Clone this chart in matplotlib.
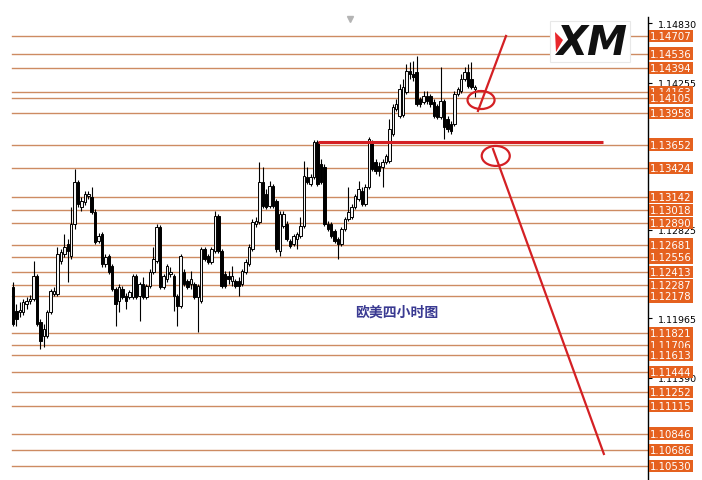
import numpy as np
import matplotlib.pyplot as plt
from matplotlib.patches import Ellipse, Polygon, Rectangle

plt.rcParams['font.family'] = ['DejaVu Sans']

# =========================
# EURUSD 4H candles
# =========================
opens = [1.12270, 1.12037, 1.12027, 1.12027, 1.12104, 1.12134, 1.12153, 1.12376, 1.11930, 1.11794,
         1.11794, 1.12027, 1.12202, 1.12202, 1.12522, 1.12590, 1.12687, 1.12571, 1.12881, 1.13289,
         1.13046, 1.13095, 1.13153, 1.13143, 1.12998, 1.12716, 1.12784, 1.12493, 1.12571, 1.12473,
         1.12250, 1.12134, 1.12250, 1.12182, 1.12172, 1.12172, 1.12376, 1.12182, 1.12299, 1.12172,
         1.12279, 1.12415, 1.12522, 1.12852, 1.12270, 1.12347, 1.12396, 1.12376, 1.12182, 1.12085,
         1.12415, 1.12328, 1.12299, 1.12299, 1.12172, 1.12134, 1.12639, 1.12571, 1.12512, 1.12619,
         1.12959, 1.12619, 1.12396, 1.12376, 1.12328, 1.12328, 1.12328, 1.12299, 1.12415, 1.12493,
         1.12639, 1.12881, 1.12901, 1.13289, 1.13173, 1.13056, 1.13250, 1.13105, 1.12619, 1.12862,
         1.12881, 1.12716, 1.12687, 1.12736, 1.12765, 1.12862, 1.13338, 1.13270, 1.13338, 1.13678,
         1.13464, 1.13435, 1.12881, 1.12881, 1.12813, 1.12736, 1.12687, 1.12833, 1.12930, 1.12949,
         1.13046, 1.13124, 1.13202, 1.13075, 1.13241, 1.13678, 1.13483, 1.13444, 1.13435, 1.13483,
         1.13493, 1.13755, 1.13998, 1.13930, 1.13940, 1.14163, 1.14367, 1.14338, 1.14357, 1.14095,
         1.14066, 1.14124, 1.14124, 1.14066, 1.14027, 1.13920, 1.14076, 1.13901, 1.13852, 1.13852,
         1.14144, 1.14173, 1.14289, 1.14357, 1.14289, 1.14192]
closes = [1.11910, 1.11959, 1.12046, 1.12124, 1.12134, 1.12153, 1.12376, 1.11910, 1.11745, 1.11862,
          1.12027, 1.12231, 1.12231, 1.12590, 1.12609, 1.12658, 1.12619, 1.12881, 1.13289, 1.13075,
          1.13105, 1.13173, 1.13173, 1.12998, 1.12706, 1.12765, 1.12493, 1.12561, 1.12415, 1.12250,
          1.12104, 1.12270, 1.12172, 1.12134, 1.12221, 1.12376, 1.12172, 1.12299, 1.12172, 1.12279,
          1.12415, 1.12541, 1.12852, 1.12270, 1.12376, 1.12473, 1.12415, 1.12182, 1.12085, 1.12571,
          1.12299, 1.12270, 1.12347, 1.12172, 1.12279, 1.12639, 1.12541, 1.12512, 1.12639, 1.12959,
          1.12619, 1.12279, 1.12279, 1.12347, 1.12376, 1.12279, 1.12279, 1.12425, 1.12512, 1.12658,
          1.12901, 1.12910, 1.13289, 1.13056, 1.13046, 1.13250, 1.13056, 1.12639, 1.12978, 1.12978,
          1.12736, 1.12668, 1.12765, 1.12784, 1.12862, 1.13347, 1.13289, 1.13338, 1.13678, 1.13270,
          1.13289, 1.12881, 1.12833, 1.12765, 1.12716, 1.12687, 1.12833, 1.12930, 1.12998, 1.13046,
          1.13153, 1.13221, 1.13075, 1.13241, 1.13707, 1.13415, 1.13396, 1.13396, 1.13483, 1.13542,
          1.13804, 1.14017, 1.14046, 1.14192, 1.14212, 1.14367, 1.14338, 1.14309, 1.14046, 1.14046,
          1.14124, 1.14076, 1.14046, 1.13930, 1.13920, 1.14076, 1.13823, 1.13804, 1.13784, 1.14144,
          1.14192, 1.14289, 1.14357, 1.14221, 1.14212, 1.14212]
highs = [1.12318, 1.12104, 1.12124, 1.12153, 1.12172, 1.12192, 1.12522, 1.12396, 1.11959, 1.11910,
         1.12046, 1.12250, 1.12270, 1.12658, 1.12639, 1.12784, 1.12736, 1.13046, 1.13415, 1.13309,
         1.13143, 1.13202, 1.13202, 1.13241, 1.13027, 1.12794, 1.12804, 1.12590, 1.12590, 1.12493,
         1.12270, 1.12299, 1.12279, 1.12211, 1.12240, 1.12396, 1.12396, 1.12318, 1.12367, 1.12299,
         1.12444, 1.12658, 1.12881, 1.12871, 1.12396, 1.12493, 1.12464, 1.12396, 1.12202, 1.12590,
         1.12444, 1.12347, 1.12425, 1.12318, 1.12299, 1.12658, 1.12658, 1.12590, 1.12658, 1.13008,
         1.12978, 1.12639, 1.12425, 1.12425, 1.12473, 1.12347, 1.12367, 1.12444, 1.12541, 1.12687,
         1.12930, 1.12949, 1.13483, 1.13435, 1.13221, 1.13299, 1.13270, 1.13124, 1.13008, 1.13008,
         1.12910, 1.12736, 1.12784, 1.12804, 1.12949, 1.13493, 1.13435, 1.13367, 1.13697, 1.13697,
         1.13512, 1.13464, 1.12910, 1.12901, 1.12833, 1.12755, 1.12852, 1.12949, 1.13241, 1.13075,
         1.13173, 1.13299, 1.13241, 1.13270, 1.13726, 1.13697, 1.13512, 1.13483, 1.13512, 1.13561,
         1.13901, 1.14046, 1.14095, 1.14241, 1.14289, 1.14435, 1.14454, 1.14464, 1.14513, 1.14114,
         1.14173, 1.14173, 1.14144, 1.14095, 1.14046, 1.14406, 1.14095, 1.13930, 1.13881, 1.14173,
         1.14212, 1.14338, 1.14406, 1.14435, 1.14454, 1.14231]
lows = [1.11891, 1.11891, 1.11978, 1.11998, 1.12056, 1.12104, 1.12134, 1.11891, 1.11668, 1.11687,
        1.11774, 1.12007, 1.12182, 1.12182, 1.12493, 1.12561, 1.12318, 1.12541, 1.12833, 1.13046,
        1.13008, 1.13066, 1.13124, 1.12978, 1.12687, 1.12697, 1.12464, 1.12464, 1.12396, 1.12231,
        1.11891, 1.12027, 1.12153, 1.12056, 1.12153, 1.12153, 1.12153, 1.11939, 1.12153, 1.12153,
        1.12260, 1.12396, 1.12503, 1.12250, 1.12250, 1.12318, 1.12367, 1.12037, 1.11891, 1.12066,
        1.12279, 1.12250, 1.12250, 1.12153, 1.11833, 1.12114, 1.12522, 1.12493, 1.12493, 1.12600,
        1.12600, 1.12260, 1.12260, 1.12299, 1.12279, 1.12260, 1.12182, 1.12279, 1.12396, 1.12473,
        1.12619, 1.12852, 1.12881, 1.13037, 1.13027, 1.13037, 1.13037, 1.12609, 1.12571, 1.12842,
        1.12716, 1.12648, 1.12668, 1.12639, 1.12745, 1.12842, 1.13270, 1.13250, 1.13318, 1.13250,
        1.13270, 1.12862, 1.12813, 1.12745, 1.12697, 1.12541, 1.12668, 1.12813, 1.12910, 1.12930,
        1.13027, 1.13105, 1.13056, 1.13056, 1.13221, 1.13396, 1.13367, 1.13347, 1.13241, 1.13464,
        1.13474, 1.13736, 1.13979, 1.13911, 1.13920, 1.14144, 1.14289, 1.14270, 1.14027, 1.14017,
        1.14046, 1.14046, 1.14017, 1.13911, 1.13901, 1.13901, 1.13707, 1.13775, 1.13755, 1.13833,
        1.14124, 1.14153, 1.14270, 1.14202, 1.14192, 1.14114]

# horizontal levels with orange price tags
levels = [1.14707, 1.14536, 1.14394, 1.14163, 1.14105, 1.13958, 1.13652, 1.13424, 1.13142,
          1.13018, 1.12890, 1.12681, 1.12556, 1.12413, 1.12287, 1.12178, 1.11821, 1.11706,
          1.11613, 1.11444, 1.11252, 1.11115, 1.10846, 1.10686, 1.10530]
level_labels = ["%.5f" % v for v in levels]

# regular price scale: tick marks everywhere, labels only where not covered by a tag
scale_ticks = [1.14830, 1.14543, 1.14255, 1.13968, 1.13680, 1.13393, 1.13105, 1.12825,
               1.12540, 1.12252, 1.11965, 1.11678, 1.11390, 1.11103, 1.10815, 1.10528]
scale_shown = [1.14830, 1.14255, 1.12825, 1.11965, 1.11390]

title_text = "欧美四小时图"

# hand drawn analysis (bar index, price)
resist_x = [89.1, 172.4]
resist_y = [1.13678, 1.13678]
up_x = [135.9, 144.1]
up_y = [1.13979, 1.14707]
down_x = [140.3, 172.7]
down_y = [1.13609, 1.10648]
circles = [(136.8, 1.14085, 7.9, 0.00175), (141.1, 1.13542, 8.2, 0.00194)]

Y_MIN, Y_MAX = 1.10395, 1.15066
LEVEL_COLOR = '#CD8B62'
TAG_COLOR = '#E5611F'
RED = '#D42024'

fig = plt.figure(figsize=(7.02, 4.81), dpi=100)
ax = fig.add_axes([0, 0, 648 / 702, 1])
ax.set_xlim(-3.8, 185.6)
ax.set_ylim(Y_MIN, Y_MAX)

# level lines
for lv in levels:
    ax.axhline(lv, xmin=12 / 648, xmax=1, color=LEVEL_COLOR, lw=1.0, zorder=1)

# candles
o = np.array(opens)
c = np.array(closes)
h = np.array(highs)
l = np.array(lows)
idx = np.arange(len(o))
ax.vlines(idx, l, h, color='black', lw=0.8, zorder=2)
bull = c >= o
body_low = np.minimum(o, c)
body_h = np.maximum(np.abs(c - o), 0.00004)
ax.bar(idx[bull], body_h[bull], bottom=body_low[bull], width=0.72,
       color='#F4F4F4', edgecolor='black', lw=0.7, zorder=3)
ax.bar(idx[~bull], body_h[~bull], bottom=body_low[~bull], width=0.72,
       color='black', edgecolor='black', lw=0.7, zorder=3)

# analysis drawings
ax.plot(resist_x, resist_y, color=RED, lw=2.2, solid_capstyle='butt', zorder=4)
ax.plot(up_x, up_y, color=RED, lw=1.6, zorder=4)
ax.plot(down_x, down_y, color=RED, lw=1.6, zorder=4)
for cx, cy, w, hh in circles:
    ax.add_patch(Ellipse((cx, cy), w, hh, fill=False, ec=RED, lw=1.6, zorder=4))

ax.plot([98.5], [1.14872], marker='v', color='#B4B4B4', markersize=5, zorder=4)

ax.text(112.2, 1.12027, title_text, ha='center', va='center', fontsize=10,
        fontweight='bold', color='#3A3A92', family=['Noto Sans CJK SC', 'DejaVu Sans'])

# price scale
for side in ['left', 'top', 'bottom']:
    ax.spines[side].set_visible(False)
ax.spines['right'].set_bounds(Y_MIN, 1.14888)
ax.spines['right'].set_linewidth(1.0)
ax.set_xticks([])
ax.yaxis.tick_right()
ax.set_yticks(scale_ticks)
ax.set_yticklabels(["%.5f" % t if t in scale_shown else "" for t in scale_ticks])
ax.tick_params(axis='y', length=3, width=0.8, pad=4, labelsize=6.8, colors='black')

for lv, lab in zip(levels, level_labels):
    ax.text(1.003, lv, lab, transform=ax.get_yaxis_transform(), ha='left', va='center',
            fontsize=7.3, color='white', clip_on=False, zorder=6,
            bbox=dict(boxstyle='square,pad=0.12', fc=TAG_COLOR, ec='none'))

# XM logo
fig.patches.append(Rectangle((550 / 702, 1 - 63 / 481), 80 / 702, 41 / 481,
                             transform=fig.transFigure, fc='white', ec='#E8E8E8', lw=0.8, zorder=5))
fig.text(592 / 702, 1 - 44 / 481, "XM", ha='center', va='center', fontsize=29,
         fontweight='heavy', style='italic', color='#111111', zorder=6)
fig.patches.append(Polygon([(555 / 702, 1 - 33 / 481), (563 / 702, 1 - 41 / 481),
                            (556 / 702, 1 - 53 / 481)], closed=True,
                           transform=fig.transFigure, fc='#E8262B', ec='none', zorder=7))

fig.savefig('out.png', dpi=100, facecolor='white')
